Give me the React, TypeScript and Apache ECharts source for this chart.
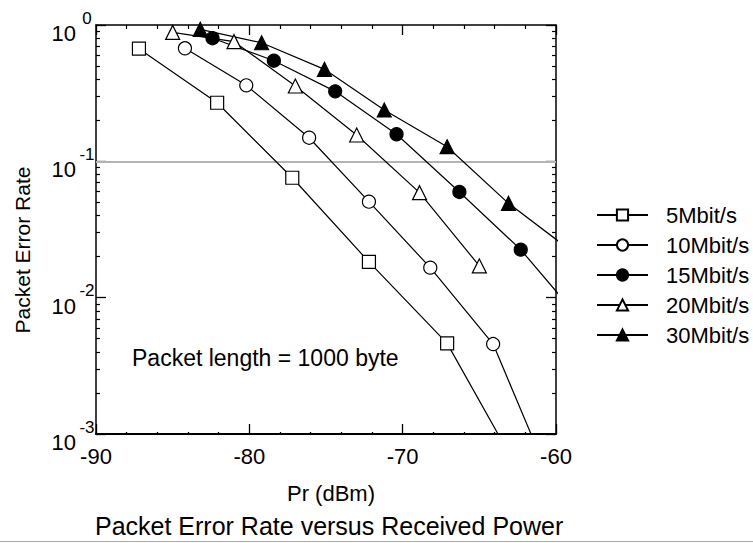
import React, { useEffect, useRef } from 'react';
import * as echarts from 'echarts';

// ---- data ----
const seriesNames = ['5Mbit/s', '10Mbit/s', '15Mbit/s', '20Mbit/s', '30Mbit/s'];

const pr5 = [-87.2, -82.1, -77.2, -72.2, -67.1, -62.0];
const per5 = [0.67, 0.269, 0.0758, 0.0183, 0.00462, 0.00044];

const pr10 = [-84.2, -80.2, -76.1, -72.2, -68.2, -64.1, -60.1];
const per10 = [0.675, 0.361, 0.149, 0.0506, 0.0166, 0.00457, 0.00039];

const pr15 = [-82.4, -78.4, -74.4, -70.4, -66.3, -62.3, -58.2];
const per15 = [0.8, 0.547, 0.326, 0.158, 0.0596, 0.0225, 0.00645];

const pr20 = [-85.0, -81.0, -77.0, -73.0, -68.9, -65.0];
const per20 = [0.883, 0.755, 0.357, 0.156, 0.0589, 0.0171];

const pr30 = [-83.2, -79.2, -75.1, -71.2, -67.1, -63.1, -59.0];
const per30 = [0.93, 0.741, 0.473, 0.238, 0.128, 0.0492, 0.022];

const xMin = -90;
const xMax = -60;
const xInterval = 10;
const yMin = 0.001;
const yMax = 1;
const minorMantissas = [2, 3, 4, 5, 6, 7, 8, 9];
const minorDecades = [-3, -2, -1];
const refLineValue = 0.1;

const titleText = 'Packet Error Rate versus Received Power';
const xName = 'Pr (dBm)';
const yName = 'Packet Error Rate';
const noteText = 'Packet length = 1000 byte';

const FONT = '"Liberation Sans", Arial, Helvetica, sans-serif';

const minorValues: number[] = [];
minorDecades.forEach((d) =>
  minorMantissas.forEach((m) => minorValues.push(Number((m * Math.pow(10, d)).toPrecision(3))))
);

function pairs(xs: number[], ys: number[]) {
  return xs.map((x, i) => [x, ys[i]]);
}

function lineSeries(name: string, data: number[][], symbol: string, fill: string, size: number) {
  return {
    name,
    type: 'line',
    data,
    symbol,
    symbolSize: size,
    showSymbol: true,
    clip: true,
    xAxisIndex: 0,
    yAxisIndex: 0,
    lineStyle: { color: '#000', width: 1.2 },
    itemStyle: { color: fill, borderColor: '#000', borderWidth: 1.2 },
    emphasis: { disabled: true },
  } as any;
}

export default function App() {
  const ref = useRef<HTMLDivElement>(null);

  useEffect(() => {
    if (!ref.current) return;
    const chart = echarts.init(ref.current, undefined, { renderer: 'svg' });

    const yMajorAxis = (position: 'left' | 'right', showLabel: boolean) => ({
      type: 'log',
      logBase: 10,
      min: yMin,
      max: yMax,
      position,
      axisLine: { show: true, lineStyle: { color: '#000', width: 1.5 } },
      axisTick: { show: true, inside: true, length: 10, lineStyle: { color: '#000', width: 1.3 } },
      splitLine: { show: false },
      minorTick: { show: false },
      axisLabel: showLabel
        ? {
            show: true,
            margin: 0,
            showMinLabel: true,
            showMaxLabel: true,
            formatter: (v: number) => `{b|10}{s|${Math.round(Math.log10(v))}}`,
            rich: {
              b: { fontSize: 22, fontFamily: FONT, color: '#000', verticalAlign: 'bottom', padding: [0, 2, 0, 0] },
              s: { fontSize: 17, fontFamily: FONT, color: '#000', width: 18, align: 'left', padding: [4, 0, 18, 0] },
            },
          }
        : { show: false },
    });

    const yMinorAxis = (position: 'left' | 'right') => ({
      type: 'log',
      logBase: 10,
      min: yMin,
      max: yMax,
      position,
      axisLine: { show: false },
      axisTick: { show: true, inside: true, length: 4, customValues: minorValues, lineStyle: { color: '#000', width: 1.2 } },
      splitLine: { show: false },
      axisLabel: { show: false },
    });

    const option: any = {
      animation: false,
      textStyle: { fontFamily: FONT, color: '#000' },
      title: {
        text: titleText,
        left: 95,
        top: 513,
        padding: 0,
        textStyle: { fontFamily: FONT, fontSize: 25, fontWeight: 'normal', color: '#000' },
      },
      grid: { left: 96, right: 197, top: 25, bottom: 109, containLabel: false },
      legend: {
        orient: 'vertical',
        left: 596,
        top: 204,
        padding: 0,
        itemWidth: 51,
        itemHeight: 14,
        itemGap: 8,
        data: seriesNames,
        textStyle: { fontFamily: FONT, fontSize: 22, color: '#000', padding: [0, 0, 0, 13] },
        selectedMode: false,
      },
      xAxis: [
        {
          type: 'value',
          min: xMin,
          max: xMax,
          interval: xInterval,
          position: 'bottom',
          name: xName,
          nameLocation: 'middle',
          nameGap: 48,
          nameTextStyle: { fontFamily: FONT, fontSize: 22, color: '#000', padding: [0, 0, 0, 10] },
          axisLine: { show: true, lineStyle: { color: '#000', width: 2 } },
          axisTick: { show: true, inside: true, length: 10, lineStyle: { color: '#000', width: 1.3 } },
          minorTick: { show: true, splitNumber: 5, length: 2, lineStyle: { color: '#000', width: 1.3 } },
          splitLine: { show: false },
          minorSplitLine: { show: false },
          axisLabel: { fontFamily: FONT, fontSize: 22, color: '#000', margin: 11, showMinLabel: true, showMaxLabel: true },
        },
        {
          type: 'value',
          min: xMin,
          max: xMax,
          interval: xInterval,
          position: 'top',
          axisLine: { show: true, lineStyle: { color: '#000', width: 1.5 } },
          axisTick: { show: true, inside: true, length: 10, lineStyle: { color: '#000', width: 1.3 } },
          minorTick: { show: true, splitNumber: 5, length: 4, lineStyle: { color: '#000', width: 1.2 } },
          splitLine: { show: false },
          minorSplitLine: { show: false },
          axisLabel: { show: false },
        },
      ],
      yAxis: [yMajorAxis('left', true), yMinorAxis('left'), yMajorAxis('right', false), yMinorAxis('right')],
      series: [
        {
          ...lineSeries(seriesNames[0], pairs(pr5, per5), 'rect', '#fff', 13),
          markLine: {
            silent: true,
            z: 1,
            symbol: 'none',
            label: { show: false },
            lineStyle: { color: '#b4b4b4', width: 2, type: 'solid' },
            data: [{ yAxis: refLineValue }],
          },
        },
        lineSeries(seriesNames[1], pairs(pr10, per10), 'circle', '#fff', 13),
        lineSeries(seriesNames[2], pairs(pr15, per15), 'circle', '#000', 13),
        lineSeries(seriesNames[3], pairs(pr20, per20), 'triangle', '#fff', 14),
        lineSeries(seriesNames[4], pairs(pr30, per30), 'triangle', '#000', 14),
      ],
      graphic: [
        {
          type: 'text',
          x: 132,
          y: 358,
          style: { text: noteText, fontFamily: FONT, fontSize: 23, fill: '#000', align: 'left', verticalAlign: 'middle' },
        },
        {
          type: 'text',
          x: 22,
          y: 250,
          rotation: Math.PI / 2,
          style: { text: yName, fontFamily: FONT, fontSize: 21, fill: '#000', align: 'center', verticalAlign: 'middle' },
        },
        {
          type: 'line',
          shape: { x1: 0, y1: 541.5, x2: 753, y2: 541.5 },
          style: { stroke: '#a8a8a8', lineWidth: 1 },
        },
      ],
    };

    chart.setOption(option);
    return () => chart.dispose();
  }, []);

  return (
    <div
      ref={ref}
      style={{ position: 'fixed', left: 0, top: 0, width: 753, height: 543, background: '#fff' }}
    />
  );
}
